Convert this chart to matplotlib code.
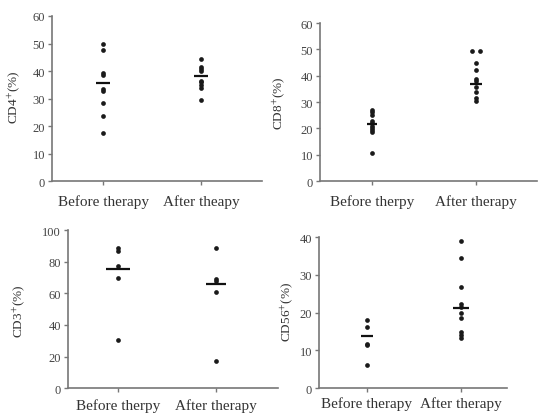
import matplotlib.pyplot as plt
import numpy as np

plt.rcParams['font.family'] = ['Liberation Serif', 'DejaVu Serif']
plt.rcParams['mathtext.fontset'] = 'stix'

# CD4+ (%)
cd4_before = [49.9, 47.6, 39.4, 38.4, 33.3, 32.8, 28.5, 23.5, 17.6]
cd4_after = [44.4, 41.6, 40.7, 39.9, 36.5, 35.9, 34.9, 33.7, 29.6]
cd4_means = [35.8, 38.3]
cd4_labels = ['Before therapy', 'After theapy']

# CD8+ (%)
cd8_before = [27.0, 26.1, 25.2, 22.9, 22.0, 21.1, 20.2, 19.4, 18.5, 10.5]
cd8_after = [49.5, 49.5, 44.7, 42.3, 38.7, 37.9, 35.8, 33.7, 31.4, 30.4]
cd8_means = [21.5, 36.7]
cd8_labels = ['Before therpy', 'After therapy']

# CD3+ (%)
cd3_before = [88.6, 86.9, 77.4, 69.4, 30.6]
cd3_after = [88.8, 69.0, 67.5, 60.6, 17.1]
cd3_means = [75.5, 65.8]
cd3_labels = ['Before therpy', 'After therapy']

# CD56+ (%)
cd56_before = [18.0, 16.1, 11.8, 11.3, 6.1]
cd56_after = [39.0, 34.4, 26.9, 22.3, 21.6, 20.0, 18.6, 14.8, 14.0, 13.3]
cd56_means = [13.7, 21.2]
cd56_labels = ['Before therapy', 'After therapy']

fig = plt.figure(figsize=(5.47, 4.14), dpi=100)

def panel(rect, before, after, means, labels, ylabel, ymax, ystep, xlim,
          half_widths, label_xy, xpad):
    ax = fig.add_axes(rect)
    for pos, vals in zip([1, 2], [before, after]):
        vals = np.array(vals)
        xs = np.full(len(vals), float(pos))
        # spread exact duplicates side by side
        for v in np.unique(vals):
            idx = np.where(vals == v)[0]
            if len(idx) > 1:
                xs[idx] = pos + (np.arange(len(idx)) - (len(idx) - 1) / 2) * 0.075
        ax.plot(xs, vals, 'o', color='#1a1a1a', ms=3.4, mew=0, zorder=3)
    for pos, m, hw in zip([1, 2], means, half_widths):
        ax.plot([pos - hw, pos + hw], [m, m], color='#111111', lw=1.6,
                solid_capstyle='butt', zorder=4)
    ax.set_xlim(xlim)
    ax.set_ylim(0, ymax)
    ax.set_yticks(np.arange(0, ymax + 1, ystep))
    ax.set_xticks([1, 2])
    ax.set_xticklabels(labels, fontsize=11, color='#333333')
    ax.spines['top'].set_visible(False)
    ax.spines['right'].set_visible(False)
    for s in ['left', 'bottom']:
        ax.spines[s].set_color('#777777')
        ax.spines[s].set_linewidth(1.2)
    ax.tick_params(axis='y', length=3, width=1, color='#777777',
                   labelsize=9, labelcolor='#444444', pad=2)
    ax.tick_params(axis='x', length=3, width=1, color='#777777', pad=xpad)
    ax.set_ylabel(ylabel, fontsize=9.5, color='#333333')
    ax.yaxis.set_label_coords(*label_xy)
    return ax

panel([0.095, 0.560, 0.384, 0.399], cd4_before, cd4_after, cd4_means,
      cd4_labels, 'CD4$^{+}$(%)', 60, 10, (0.48, 2.62), (0.07, 0.07),
      (-0.143, 0.515), 6.5)
panel([0.585, 0.560, 0.397, 0.382], cd8_before, cd8_after, cd8_means,
      cd8_labels, 'CD8$^{+}$(%)', 60, 10, (0.5, 2.59), (0.05, 0.06),
      (-0.152, 0.5), 6.5)
panel([0.124, 0.060, 0.384, 0.382], cd3_before, cd3_after, cd3_means,
      cd3_labels, 'CD3$^{+}$(%)', 100, 20, (0.49, 2.63), (0.12, 0.10),
      (-0.195, 0.49), 4)
panel([0.583, 0.060, 0.344, 0.365], cd56_before, cd56_after, cd56_means,
      cd56_labels, 'CD56$^{+}$(%)', 40, 10, (0.49, 2.49), (0.06, 0.085),
      (-0.128, 0.51), 2.5)

fig.savefig('out.png', dpi=100)
